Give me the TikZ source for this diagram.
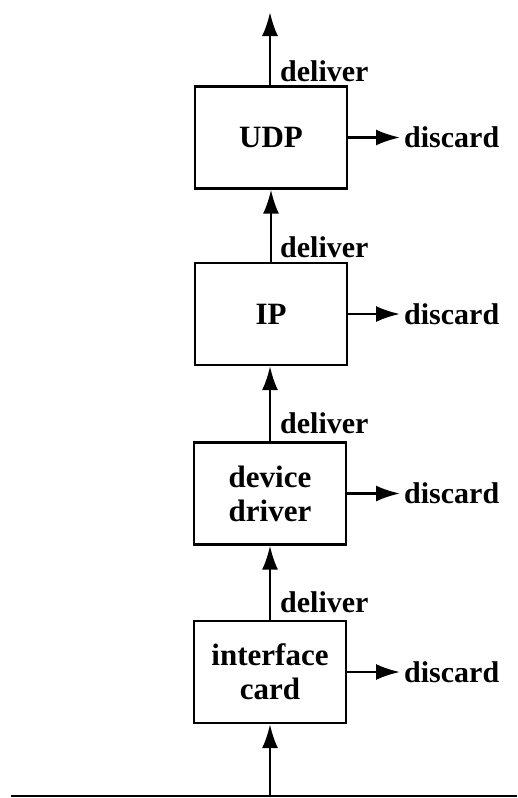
\documentclass[tikz,border=0pt]{standalone}
\usepackage{fontspec}
\setmainfont{Liberation Serif}
\usetikzlibrary{arrows.meta}
\begin{document}
\begin{tikzpicture}[x=1pt,y=-1pt,
  layer/.style={draw, line width=2.2pt, minimum width=152pt, minimum height=102pt, inner sep=0pt, align=center, font=\fontsize{31}{34}\selectfont\bfseries},
  lbl/.style={anchor=west, inner sep=0pt, font=\fontsize{30}{32}\selectfont\bfseries},
  arr/.style={line width=2.5pt, -{Latex[length=24pt,width=16pt]}}]
\useasboundingbox (0,0) rectangle (517,798);
\node[layer] (udp) at (271,137.5) {UDP};
\node[layer] (ip) at (271,314) {IP};
\node[layer] (dd) at (270,493.5) {device\\driver};
\node[layer] (ic) at (270,672) {interface\\card};
% deliver labels
\node[lbl] (d1) at (280,71) {deliver};
\node[lbl] (d2) at (280,247) {deliver};
\node[lbl] (d3) at (280,423) {deliver};
\node[lbl] (d4) at (280,602) {deliver};
% discard labels
\node[lbl] (x1) at (404,137.5) {discard};
\node[lbl] (x2) at (404,314) {discard};
\node[lbl] (x3) at (404,493.5) {discard};
\node[lbl] (x4) at (404,672) {discard};
% vertical arrows
\coordinate (top) at (270,12);
\draw[arr] (udp.north -| top) -- (top);
\draw[arr] (ip.north) -- (udp.south);
\draw[arr] (dd.north) -- (ip.south -| dd.north);
\draw[arr] (ic.north) -- (dd.south);
% ground line
\coordinate (gl) at (11,796);
\coordinate (gr) at (517,796);
\draw[line width=2.5pt] (gl) -- (gr);
\coordinate (base) at (ic.south |- gl);
\draw[arr] (base) -- (ic.south);
% discard arrows
\draw[arr, shorten >=4pt] (udp.east) -- (x1.west);
\draw[arr, shorten >=4pt] (ip.east) -- (x2.west);
\draw[arr, shorten >=4pt] (dd.east) -- (x3.west);
\draw[arr, shorten >=4pt] (ic.east) -- (x4.west);
\end{tikzpicture}
\end{document}
